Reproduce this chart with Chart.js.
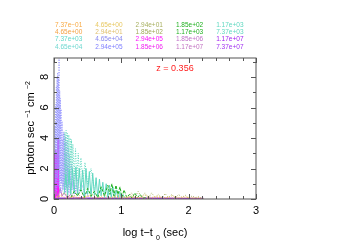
<!DOCTYPE html>
<html>
<head>
<meta charset="utf-8">
<script src="https://cdn.jsdelivr.net/npm/chart.js@4.4.0/dist/chart.umd.min.js"></script>
<style>
  body { margin: 0; background: #fff; }
  canvas { display: block; }
</style>
</head>
<body>
<canvas id="c" width="354" height="250"></canvas>
<script>
// legend labels (5 columns x 4 rows) and their colours
const legendLabels = [
  '7.37e\u221201', '4.65e+00', '2.94e+01', '1.85e+02', '1.17e+03',
  '4.65e+00', '2.94e+01', '1.85e+02', '1.17e+03', '7.37e+03',
  '7.37e+03', '4.65e+04', '2.94e+05', '1.85e+06', '1.17e+07',
  '4.65e+04', '2.94e+05', '1.85e+06', '1.17e+07', '7.37e+07'
];
const legendColors = [
  '#f8a840', '#e8c860', '#a8b060', '#20b020', '#60d8c0',
  '#f4a040', '#e0c070', '#a0a858', '#20b020', '#60d8c0',
  '#60d8c8', '#8888f0', '#ff10ff', '#c070c8', '#a020f0',
  '#70d8d0', '#8080ff', '#f020f0', '#c070c0', '#a030f0'
];

const xTicks = [0, 1, 2, 3];
const yTicks = [0, 2, 4, 6, 8];
const redshift = 'z = 0.356';

// light curves
const blueX = [0.01,0.015,0.02,0.025,0.03,0.035,0.04,0.045,0.05,0.055,0.06,0.065,0.07,0.075,0.08,0.085,0.09,0.095,0.1,0.105,0.11,0.12,0.13,0.14,0.15,0.16,0.17,0.18,0.19,0.2,0.22,0.24,0.26,0.28,0.3,0.33,0.36,0.4,0.44,0.48,0.52];
const blueY = [0.3,4.8,0.6,6.2,1.1,7.4,0.5,8.0,1.4,8.3,0.8,7.9,2.0,10.5,0.7,7.1,1.2,6.6,0.4,5.9,1.0,5.1,0.6,4.4,0.9,3.7,0.4,3.0,0.7,2.2,0.3,1.6,0.6,1.2,0.2,1.0,0.3,0.7,0.2,0.4,0.1];

const blue2X = [0.12,0.13,0.14,0.15,0.16,0.17,0.18,0.19,0.2,0.21,0.22,0.23,0.24,0.26,0.28,0.3,0.32,0.35,0.38,0.42,0.46,0.5];
const blue2Y = [0.5,3.9,0.7,4.3,0.4,4.1,0.9,3.8,0.5,3.4,0.8,2.9,0.4,2.3,0.6,1.7,0.3,1.3,0.5,0.9,0.3,0.5];

const magX = [0.003,0.007,0.01,0.014,0.017,0.021,0.024,0.028,0.031,0.035,0.038,0.042,0.045,0.049,0.052,0.056,0.06,0.063,0.067,0.07,0.074];
const magY = [0.2,2.8,0.3,3.0,0.1,3.2,0.4,2.9,0.2,3.1,0.5,2.7,0.1,2.9,0.3,2.5,4.0,0.2,2.0,0.3,0.1];

const turqDotX = [0.15,0.16,0.17,0.18,0.19,0.2,0.21,0.22,0.23,0.24,0.25,0.26,0.27,0.28,0.3,0.32,0.34,0.36,0.38,0.4,0.43,0.46,0.5,0.55,0.6];
const turqDotY = [0.6,4.4,1.0,4.5,0.8,4.3,1.4,4.2,1.0,4.0,1.6,3.9,1.2,3.6,1.5,3.3,1.2,3.0,1.4,2.7,1.1,2.4,1.0,2.0,0.6];

const turqX = [0.15,0.175,0.2,0.225,0.25,0.275,0.3,0.325,0.35,0.375,0.4,0.425,0.45,0.475,0.5,0.525,0.55,0.575,0.6,0.625,0.65,0.675,0.7,0.725,0.75,0.775,0.8,0.825,0.85,0.875,0.9,0.925,0.95,0.975,1.0,1.025,1.05];
const turqY = [0.3,1.6,0.2,1.9,0.3,2.0,0.4,2.1,0.2,2.0,0.5,1.9,0.2,2.0,0.3,1.8,0.1,1.7,0.2,1.4,0.1,1.3,0.2,1.1,0.1,1.0,0.1,0.9,0.1,0.8,0.05,0.6,0.05,0.5,0.05,0.3,0.02];

const greenX = [0.25,0.3,0.35,0.4,0.45,0.5,0.55,0.6,0.65,0.7,0.75,0.8,0.83,0.86,0.89,0.92,0.95,0.98,1.01,1.04,1.08,1.12,1.16,1.2,1.24,1.28,1.32,1.36];
const greenY = [0.1,0.5,0.2,0.6,0.1,0.7,0.2,0.5,0.1,0.8,0.2,0.9,0.3,1.0,0.2,0.9,0.3,0.8,0.1,0.6,0.1,0.3,0.05,0.4,0.1,0.3,0.05,0.1];

const oliveX = [0.9,1.0,1.1,1.15,1.2,1.25,1.3,1.35,1.4,1.45,1.5,1.55,1.6,1.65,1.7,1.75,1.8,1.85,1.9,1.95,2.0,2.05,2.1,2.15,2.2];
const oliveY = [0.1,0.2,0.05,0.4,0.1,0.5,0.1,0.4,0.05,0.4,0.1,0.3,0.05,0.35,0.1,0.3,0.05,0.3,0.1,0.25,0.05,0.2,0.1,0.15,0.02];

const goldX = [0.05,0.15,0.25,0.35,0.45,0.55,0.65,0.75,0.85,0.95,1.05,1.15,1.25,1.35,1.45,1.55,1.65,1.75,1.85,1.95,2.05,2.15,2.22];
const goldY = [0.1,0.4,0.1,0.3,0.05,0.3,0.1,0.25,0.05,0.3,0.1,0.2,0.05,0.25,0.1,0.2,0.05,0.2,0.1,0.15,0.05,0.1,0.02];

const orangeX = [0.0,0.1,0.2,0.3,0.4,0.5,0.6,0.7,0.8,0.9,1.0,1.2,1.4,1.6,1.8,2.0,2.2];
const orangeY = [0.1,0.2,0.05,0.15,0.05,0.2,0.05,0.1,0.05,0.15,0.05,0.1,0.05,0.1,0.05,0.08,0.02];

const orchidX = [0.0,0.03,0.06,0.09,0.12,0.15,0.2,0.25,0.3,0.4,0.5];
const orchidY = [0.1,0.5,0.1,0.7,0.2,0.4,0.1,0.3,0.05,0.1,0.02];

const purpleX = [0.0, 0.5, 1.0, 1.5, 2.0, 2.22];
const purpleY = [0.04, 0.04, 0.03, 0.03, 0.02, 0.02];

function pts(xs, ys) { return xs.map((x, i) => ({ x: x, y: ys[i] })); }

function line(xs, ys, color, dash, width) {
  return {
    data: pts(xs, ys),
    showLine: true,
    borderColor: color,
    borderWidth: width || 1,
    borderDash: dash || [],
    pointRadius: 0,
    tension: 0
  };
}

const datasets = [
  line(orangeX, orangeY, legendColors[0], [1, 1.5]),
  line(goldX, goldY, legendColors[1], [1, 1.5]),
  line(oliveX, oliveY, legendColors[2], [1, 1.5]),
  line(greenX, greenY, legendColors[3], [3, 1.5]),
  line(turqX, turqY, legendColors[4]),
  line(turqDotX, turqDotY, legendColors[9], [1, 1.5]),
  line(blue2X, blue2Y, '#9c9cf4', [1, 1.5]),
  line(blueX, blueY, '#9898ff', [1, 1.5]),
  line(orchidX, orchidY, legendColors[13]),
  line(magX, magY, legendColors[12]),
  line(purpleX, purpleY, legendColors[19], [], 2)
];

// frame, inward ticks, titles, legend text
const decor = {
  id: 'decor',
  afterDatasetsDraw(chart) {
    const ctx = chart.ctx;
    const a = chart.chartArea;
    const xs = chart.scales.x, ys = chart.scales.y;
    ctx.save();
    ctx.strokeStyle = '#555';
    ctx.lineWidth = 1;
    ctx.strokeRect(a.left, a.top, a.right - a.left, a.bottom - a.top);
    ctx.beginPath();
    for (let i = 0; i <= 15; i++) {
      const v = i * 0.2;
      const px = Math.round(xs.getPixelForValue(v)) + 0.5;
      const len = (i % 5 === 0) ? 5 : 3;
      ctx.moveTo(px, a.bottom); ctx.lineTo(px, a.bottom - len);
      ctx.moveTo(px, a.top); ctx.lineTo(px, a.top + len);
    }
    for (let v = 0; v <= 9; v++) {
      const py = Math.round(ys.getPixelForValue(v)) + 0.5;
      const len = (v % 2 === 0) ? 5 : 3;
      ctx.moveTo(a.left, py); ctx.lineTo(a.left + len, py);
      ctx.moveTo(a.right, py); ctx.lineTo(a.right - len, py);
    }
    ctx.stroke();

    // legend labels
    ctx.font = '6.5px "Liberation Sans", Arial, sans-serif';
    ctx.textBaseline = 'middle';
    ctx.textAlign = 'left';
    legendLabels.forEach((t, i) => {
      const col = i % 5, row = Math.floor(i / 5);
      ctx.fillStyle = legendColors[i];
      ctx.fillText(t, 55 + col * 40.3, 24.8 + row * 7.4);
    });

    // redshift
    ctx.font = '9px "Liberation Sans", Arial, sans-serif';
    ctx.fillStyle = '#ff2020';
    ctx.textAlign = 'center';
    ctx.fillText(redshift, 175, 68.5);

    // x title: log t-t0 (sec)
    ctx.fillStyle = '#000';
    ctx.textBaseline = 'alphabetic';
    ctx.textAlign = 'left';
    const big = '11px "Liberation Sans", Arial, sans-serif';
    const small = '7px "Liberation Sans", Arial, sans-serif';
    ctx.font = big;
    const p1 = 'log t\u2212t ', p3 = ' (sec)';
    const w1 = ctx.measureText(p1).width, w3 = ctx.measureText(p3).width;
    ctx.font = small;
    const w2 = ctx.measureText('0').width;
    let x0 = 155 - (w1 + w2 + w3) / 2;
    ctx.font = big; ctx.fillText(p1, x0, 235.5);
    ctx.font = small; ctx.fillText('0', x0 + w1, 239.5);
    ctx.font = big; ctx.fillText(p3, x0 + w1 + w2, 235.5);

    // y title: photon sec^-1 cm^-2
    ctx.translate(34, 128);
    ctx.rotate(-Math.PI / 2);
    const parts = [['photon sec ', big, 0], ['\u22121', small, -4.5], [' cm ', big, 0], ['\u22122', small, -4.5]];
    let tot = 0;
    parts.forEach(p => { ctx.font = p[1]; tot += ctx.measureText(p[0]).width; });
    let cx = -tot / 2;
    parts.forEach(p => {
      ctx.font = p[1];
      ctx.fillText(p[0], cx, p[2]);
      cx += ctx.measureText(p[0]).width;
    });
    ctx.restore();
  }
};

new Chart(document.getElementById('c'), {
  type: 'scatter',
  data: { datasets: datasets },
  options: {
    responsive: false,
    animation: false,
    layout: { padding: { top: 58, right: 98, left: 0, bottom: 0 } },
    plugins: { legend: { display: false }, tooltip: { enabled: false } },
    scales: {
      x: {
        type: 'linear', min: 0, max: 3,
        grid: { display: false, drawTicks: false },
        border: { display: false },
        afterBuildTicks: s => { s.ticks = xTicks.map(v => ({ value: v })); },
        afterFit: s => { s.height = 51; },
        ticks: { color: '#000', padding: 5, font: { size: 11, family: '"Liberation Sans", Arial' }, maxRotation: 0 }
      },
      y: {
        type: 'linear', min: 0, max: 9.25,
        grid: { display: false, drawTicks: false },
        border: { display: false },
        afterBuildTicks: s => { s.ticks = yTicks.map(v => ({ value: v })); },
        afterFit: s => { s.width = 54; },
        ticks: { color: '#000', padding: 6, crossAlign: 'center', minRotation: 90, maxRotation: 90, font: { size: 11, family: '"Liberation Sans", Arial' } }
      }
    }
  },
  plugins: [decor]
});
</script>
</body>
</html>
